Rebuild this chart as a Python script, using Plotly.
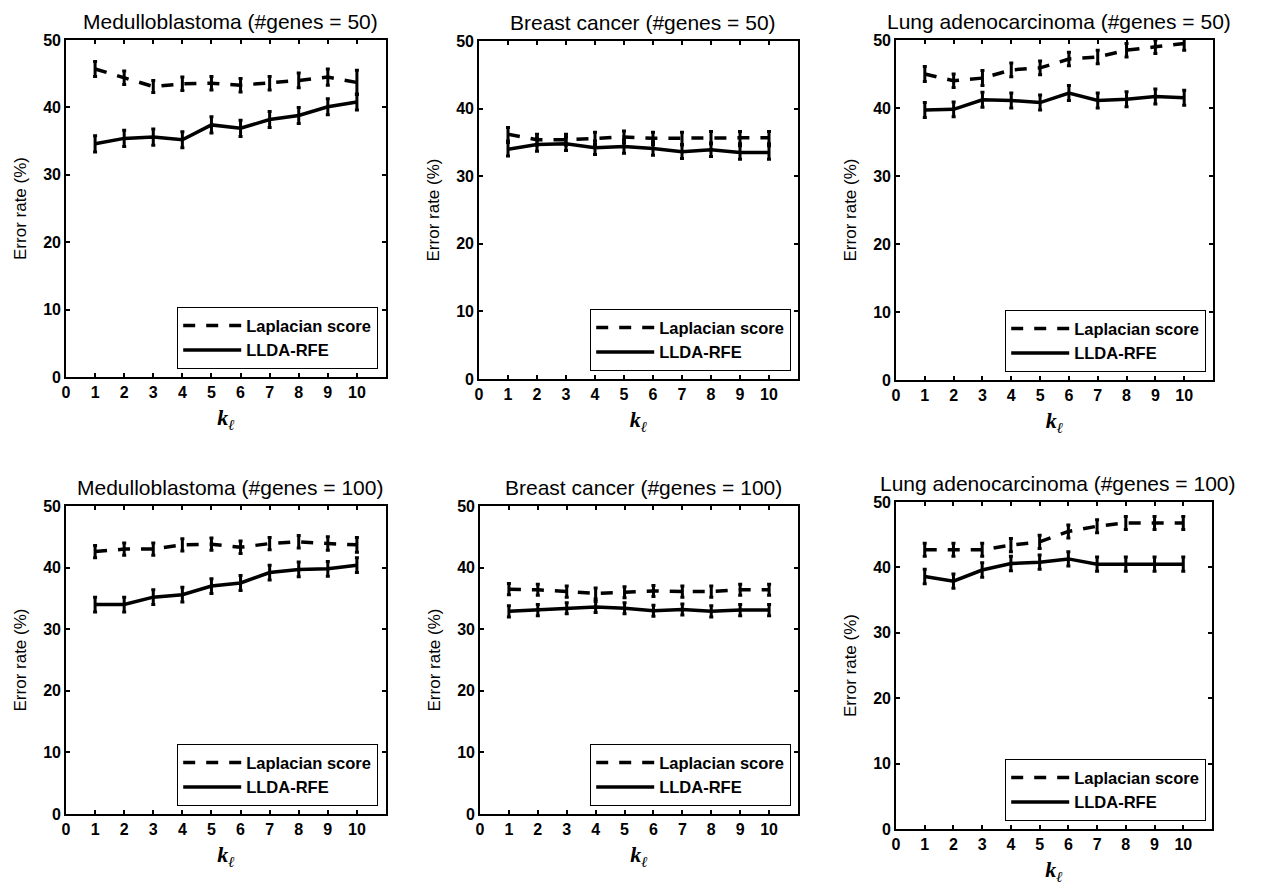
import plotly.graph_objects as go

k_values = [1, 2, 3, 4, 5, 6, 7, 8, 9, 10]
x_tick_labels = ["0", "1", "2", "3", "4", "5", "6", "7", "8", "9", "10"]
y_tick_labels = ["0", "10", "20", "30", "40", "50"]

titles = [
    "Medulloblastoma (#genes = 50)",
    "Breast cancer (#genes = 50)",
    "Lung adenocarcinoma (#genes = 50)",
    "Medulloblastoma (#genes = 100)",
    "Breast cancer (#genes = 100)",
    "Lung adenocarcinoma (#genes = 100)",
]

# Laplacian score error rates (%)
lap_medullo_50 = [45.7, 44.4, 43.1, 43.5, 43.6, 43.3, 43.6, 44.0, 44.5, 43.7]
lap_breast_50 = [36.2, 35.4, 35.4, 35.6, 35.8, 35.6, 35.6, 35.7, 35.7, 35.7]
lap_lung_50 = [45.0, 44.0, 44.4, 45.6, 45.9, 47.2, 47.5, 48.5, 49.0, 49.5]
lap_medullo_100 = [42.6, 43.0, 43.0, 43.7, 43.8, 43.3, 43.9, 44.2, 43.9, 43.7]
lap_breast_100 = [36.5, 36.4, 36.1, 35.8, 36.0, 36.2, 36.1, 36.1, 36.4, 36.4]
lap_lung_100 = [42.7, 42.7, 42.7, 43.4, 43.9, 45.5, 46.3, 46.8, 46.8, 46.8]

lap_err_medullo_50 = [1.1, 1.0, 0.9, 1.0, 1.0, 1.0, 1.0, 1.1, 1.2, 1.8]
lap_err_breast_50 = [1.0, 0.8, 0.8, 0.9, 0.9, 0.9, 0.9, 0.9, 0.9, 0.9]
lap_err_lung_50 = [1.1, 1.0, 1.1, 1.0, 1.0, 1.0, 1.0, 1.0, 1.0, 1.0]
lap_err_medullo_100 = [1.0, 1.0, 1.0, 1.0, 1.0, 1.0, 1.0, 1.0, 1.1, 1.2]
lap_err_breast_100 = [0.9, 0.9, 0.9, 0.9, 0.9, 0.9, 0.9, 0.9, 0.9, 0.9]
lap_err_lung_100 = [1.0, 1.0, 1.0, 1.0, 1.0, 1.0, 1.0, 1.0, 1.0, 1.0]

# LLDA-RFE error rates (%)
llda_medullo_50 = [34.6, 35.4, 35.6, 35.2, 37.4, 36.9, 38.2, 38.8, 40.1, 40.8]
llda_breast_50 = [34.0, 34.7, 34.8, 34.2, 34.4, 34.1, 33.6, 33.9, 33.5, 33.5]
llda_lung_50 = [39.7, 39.8, 41.2, 41.1, 40.8, 42.2, 41.1, 41.3, 41.7, 41.5]
llda_medullo_100 = [34.0, 34.0, 35.2, 35.6, 37.0, 37.5, 39.2, 39.7, 39.8, 40.4]
llda_breast_100 = [32.9, 33.1, 33.4, 33.6, 33.4, 33.0, 33.2, 32.9, 33.1, 33.1]
llda_lung_100 = [38.6, 37.9, 39.6, 40.6, 40.8, 41.3, 40.5, 40.5, 40.5, 40.5]

llda_err_medullo_50 = [1.2, 1.2, 1.2, 1.2, 1.2, 1.2, 1.2, 1.2, 1.2, 1.2]
llda_err_breast_50 = [1.0, 1.0, 1.0, 1.0, 1.0, 1.0, 1.0, 1.0, 1.0, 1.0]
llda_err_lung_50 = [1.1, 1.1, 1.1, 1.1, 1.1, 1.1, 1.1, 1.1, 1.1, 1.1]
llda_err_medullo_100 = [1.2, 1.2, 1.2, 1.2, 1.2, 1.2, 1.2, 1.2, 1.2, 1.2]
llda_err_breast_100 = [0.9, 0.9, 0.9, 0.9, 0.9, 0.9, 0.9, 0.9, 0.9, 0.9]
llda_err_lung_100 = [1.1, 1.1, 1.1, 1.1, 1.1, 1.1, 1.1, 1.1, 1.1, 1.1]

lap_series = [lap_medullo_50, lap_breast_50, lap_lung_50,
              lap_medullo_100, lap_breast_100, lap_lung_100]
lap_errs = [lap_err_medullo_50, lap_err_breast_50, lap_err_lung_50,
            lap_err_medullo_100, lap_err_breast_100, lap_err_lung_100]
llda_series = [llda_medullo_50, llda_breast_50, llda_lung_50,
               llda_medullo_100, llda_breast_100, llda_lung_100]
llda_errs = [llda_err_medullo_50, llda_err_breast_50, llda_err_lung_50,
             llda_err_medullo_100, llda_err_breast_100, llda_err_lung_100]

# the page body adds an 8px margin: place everything relative to that
OFF = 8
W, H = 1266 - OFF, 886 - OFF
# panel boxes in page pixels: (left, right, top, bottom)
boxes = [
    (66, 386, 40, 377),
    (479, 798, 41, 379),
    (896, 1213, 40, 380),
    (66, 386, 506, 814),
    (480, 798, 506, 814),
    (896, 1212, 502, 829),
]
legend_pos = [  # right, bottom in page pixels
    (378, 369),
    (791, 371),
    (1206, 372),
    (378, 806),
    (791, 806),
    (1206, 821),
]


def px(v):
    return (v - OFF) / W


def py(v):
    return 1 - (v - OFF) / H


fig = go.Figure()
FONT = "Liberation Sans, Arial, sans-serif"

for i in range(6):
    ax = "" if i == 0 else str(i + 1)
    leg = "legend" if i == 0 else "legend" + str(i + 1)
    fig.add_trace(go.Scatter(
        x=k_values, y=lap_series[i], mode="lines", name="Laplacian score",
        line=dict(color="black", width=3.5, dash="12px,11px"),
        error_y=dict(type="data", array=lap_errs[i], color="black",
                     thickness=3, width=2),
        xaxis="x" + ax, yaxis="y" + ax, legend=leg))
    fig.add_trace(go.Scatter(
        x=k_values, y=llda_series[i], mode="lines", name="LLDA-RFE",
        line=dict(color="black", width=3.5),
        error_y=dict(type="data", array=llda_errs[i], color="black",
                     thickness=3, width=2),
        xaxis="x" + ax, yaxis="y" + ax, legend=leg))

layout = dict(
    width=W, height=H,
    margin=dict(l=0, r=0, t=0, b=0, autoexpand=False),
    paper_bgcolor="white", plot_bgcolor="white",
    font=dict(family=FONT, color="black", size=16),
    annotations=[],
)

for i, (l, r, t, b) in enumerate(boxes):
    ax = "" if i == 0 else str(i + 1)
    layout["xaxis" + ax] = dict(
        domain=[px(l), px(r)], range=[0, 11], anchor="y" + ax, automargin=False,
        tickmode="array", tickvals=list(range(11)), ticktext=x_tick_labels,
        ticks="inside", ticklen=4, tickwidth=1.5, tickcolor="black",
        showline=True, linecolor="black", linewidth=1.6, mirror="ticks",
        showgrid=False, zeroline=False,
        tickfont=dict(family=FONT, size=16, color="black", weight="bold"),
        title=dict(text="<i><b>k</b></i><sub><i><b>ℓ</b></i></sub>",
                   font=dict(family="Liberation Serif, Times New Roman, serif",
                             size=22, color="black"),
                   standoff=10),
    )
    layout["yaxis" + ax] = dict(
        domain=[py(b), py(t)], range=[0, 50], anchor="x" + ax, automargin=False,
        tickmode="array", tickvals=[0, 10, 20, 30, 40, 50], ticktext=y_tick_labels,
        ticks="inside", ticklen=4, tickwidth=1.5, tickcolor="black",
        showline=True, linecolor="black", linewidth=1.6, mirror="ticks",
        showgrid=False, zeroline=False,
        tickfont=dict(family=FONT, size=16, color="black", weight="bold"),
        title=dict(text="Error rate (%)",
                   font=dict(family=FONT, size=17, color="black"),
                   standoff=12),
    )
    layout["annotations"].append(dict(
        text=titles[i], xref="paper", yref="paper",
        x=px((l + r) / 2 + 4), y=py(t - 5), xanchor="center", yanchor="bottom",
        showarrow=False, font=dict(family=FONT, size=21, color="black")))
    leg = "legend" if i == 0 else "legend" + str(i + 1)
    lr, lb = legend_pos[i]
    layout[leg] = dict(
        x=px(lr), y=py(lb), xanchor="right", yanchor="bottom",
        bgcolor="white", bordercolor="black", borderwidth=1.2,
        font=dict(family=FONT, size=16.5, color="black", weight="bold"),
        tracegroupgap=0, itemwidth=58,
    )

fig.update_layout(**layout)
fig.write_html("out.html")
